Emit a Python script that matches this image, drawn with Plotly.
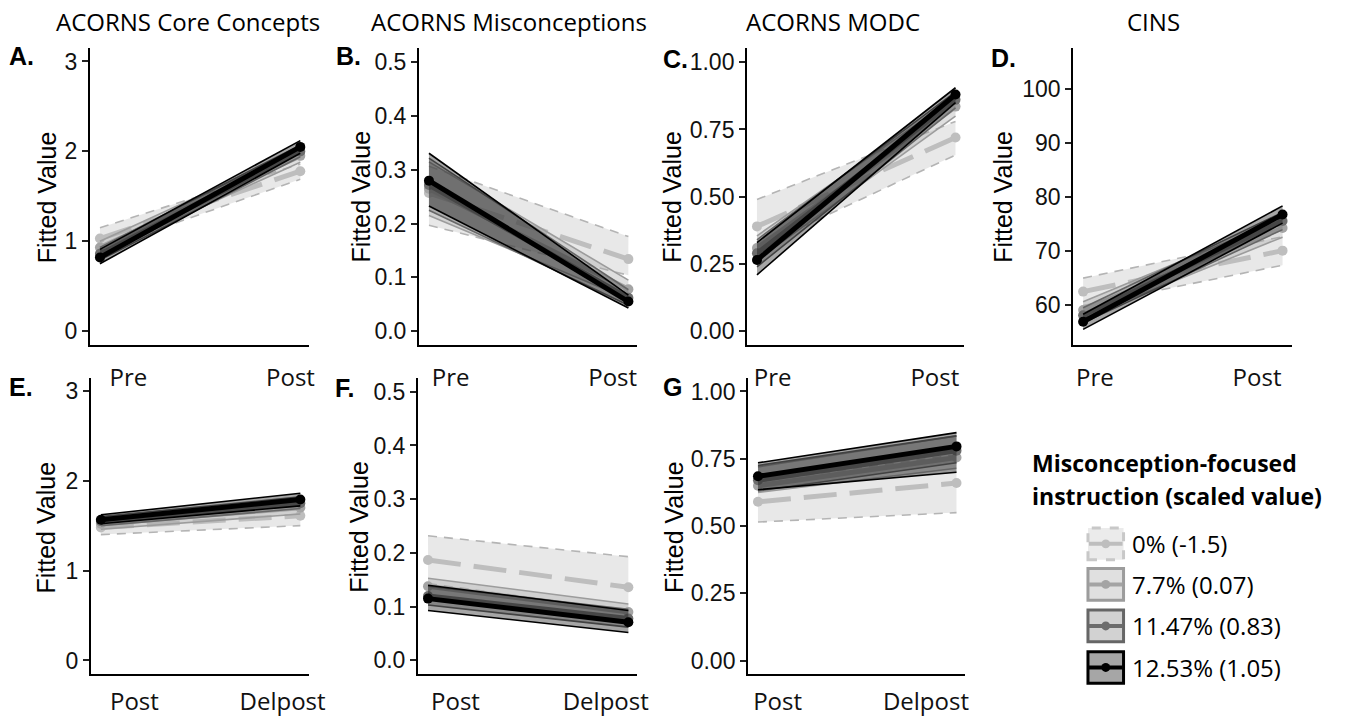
import plotly.graph_objects as go

W, H = 1352, 717

# ---------------- data ----------------
group_labels = ["0% (-1.5)", "7.7% (0.07)", "11.47% (0.83)", "12.53% (1.05)"]
panel_titles = ["ACORNS Core Concepts", "ACORNS Misconceptions", "ACORNS MODC", "CINS"]
panel_letters = ["A.", "B.", "C.", "D.", "E.", "F.", "G"]
time_row1 = ["Pre", "Post"]
time_row2 = ["Post", "Delpost"]
time_index = [1, 2]

# A: ACORNS Core Concepts, Pre -> Post
A_mean = [[1.03, 1.78], [0.93, 1.95], [0.86, 2.00], [0.82, 2.05]]
A_lo = [[0.91, 1.69], [0.86, 1.88], [0.79, 1.94], [0.75, 1.98]]
A_hi = [[1.15, 1.86], [1.00, 2.02], [0.93, 2.07], [0.91, 2.12]]

# B: ACORNS Misconceptions, Pre -> Post
B_mean = [[0.257, 0.134], [0.265, 0.078], [0.272, 0.062], [0.280, 0.055]]
B_lo = [[0.197, 0.104], [0.215, 0.060], [0.225, 0.048], [0.233, 0.043]]
B_hi = [[0.307, 0.176], [0.315, 0.095], [0.322, 0.077], [0.331, 0.067]]

# C: ACORNS MODC, Pre -> Post
C_mean = [[0.39, 0.72], [0.31, 0.835], [0.29, 0.86], [0.265, 0.88]]
C_lo = [[0.31, 0.655], [0.265, 0.80], [0.24, 0.83], [0.21, 0.85]]
C_hi = [[0.49, 0.78], [0.355, 0.87], [0.34, 0.89], [0.33, 0.905]]

# D: CINS, Pre -> Post
D_mean = [[62.4, 70.0], [59.0, 74.2], [58.0, 75.5], [56.8, 76.7]]
D_lo = [[59.8, 67.3], [57.5, 72.5], [56.6, 73.9], [55.4, 75.1]]
D_hi = [[64.9, 72.6], [60.5, 75.9], [59.4, 77.1], [58.2, 78.3]]

# E: ACORNS Core Concepts, Post -> Delpost
E_mean = [[1.48, 1.61], [1.52, 1.70], [1.55, 1.75], [1.565, 1.79]]
E_lo = [[1.40, 1.50], [1.46, 1.63], [1.50, 1.69], [1.52, 1.72]]
E_hi = [[1.57, 1.72], [1.58, 1.77], [1.60, 1.82], [1.62, 1.86]]

# F: ACORNS Misconceptions, Post -> Delpost
F_mean = [[0.187, 0.136], [0.138, 0.090], [0.120, 0.078], [0.115, 0.071]]
F_lo = [[0.143, 0.092], [0.122, 0.075], [0.103, 0.062], [0.093, 0.052]]
F_hi = [[0.232, 0.193], [0.153, 0.105], [0.138, 0.095], [0.140, 0.093]]

# G: ACORNS MODC, Post -> Delpost
G_mean = [[0.59, 0.66], [0.65, 0.755], [0.67, 0.78], [0.685, 0.796]]
G_lo = [[0.515, 0.55], [0.625, 0.715], [0.63, 0.735], [0.635, 0.70]]
G_hi = [[0.665, 0.765], [0.72, 0.835], [0.725, 0.835], [0.735, 0.847]]

# ---------------- styles ----------------
line_colors = ["#bebebe", "#a4a4a4", "#6c6c6c", "#000000"]
border_colors = ["#b4b4b4", "#9c9c9c", "#666666", "#000000"]
fill_colors = ["rgba(190,190,190,0.35)", "rgba(164,164,164,0.35)",
               "rgba(108,108,108,0.35)", "rgba(0,0,0,0.35)"]
key_fills = ["#ebebeb", "#e0e0e0", "#d2d2d2", "#a6a6a6"]
mean_dash = ["33px,13px", "solid", "solid", "solid"]
border_dash = ["9px,7px", "solid", "solid", "solid"]


def px(x):
    return x / W


def py(y):
    return 1 - y / H


panels = [
    dict(mean=A_mean, lo=A_lo, hi=A_hi, xpx=(91, 313), ypx=(49, 349), yr=(-0.155, 3.145),
         yt=[0, 1, 2, 3], fmt="", lab=time_row1, lpos=[1.142, 1.951], tl=10,
         letter=(7, 57), ytx=47, ytc=199),
    dict(mean=B_mean, lo=B_lo, hi=B_hi, xpx=(424, 645), ypx=(49, 349), yr=(-0.026, 0.526),
         yt=[0, 0.1, 0.2, 0.3, 0.4, 0.5], fmt=".1f", lab=time_row1, lpos=[1.109, 1.921], tl=10,
         letter=(338, 57), ytx=365, ytc=199),
    dict(mean=C_mean, lo=C_lo, hi=C_hi, xpx=(756, 976), ypx=(49, 349), yr=(-0.051, 1.051),
         yt=[0, 0.25, 0.5, 0.75, 1.0], fmt=".2f", lab=time_row1, lpos=[1.079, 1.896], tl=10,
         letter=(669, 60), ytx=680, ytc=199),
    dict(mean=D_mean, lo=D_lo, hi=D_hi, xpx=(1086, 1307), ypx=(49, 349), yr=(52.48, 107.5),
         yt=[60, 70, 80, 90, 100], fmt="", lab=time_row1, lpos=[1.059, 1.872], tl=10,
         letter=(1001, 59), ytx=1015, ytc=199),
    dict(mean=E_mean, lo=E_lo, hi=E_hi, xpx=(92, 313), ypx=(382, 682), yr=(-0.155, 3.145),
         yt=[0, 1, 2, 3], fmt="", lab=time_row2, lpos=[1.168, 1.911], tl=5,
         letter=(7, 391), ytx=47, ytc=533),
    dict(mean=F_mean, lo=F_lo, hi=F_hi, xpx=(423, 645), ypx=(382, 682), yr=(-0.026, 0.526),
         yt=[0, 0.1, 0.2, 0.3, 0.4, 0.5], fmt=".1f", lab=time_row2, lpos=[1.137, 1.887], tl=5,
         letter=(337, 392), ytx=363, ytc=533),
    dict(mean=G_mean, lo=G_lo, hi=G_hi, xpx=(757, 977), ypx=(382, 682), yr=(-0.051, 1.051),
         yt=[0, 0.25, 0.5, 0.75, 1.0], fmt=".2f", lab=time_row2, lpos=[1.099, 1.846], tl=5,
         letter=(669, 391), ytx=682, ytc=533),
]

fig = go.Figure()
layout = {}
annotations = []
shapes = []

for i, p in enumerate(panels):
    n = "" if i == 0 else str(i + 1)
    xa, ya = "x" + n, "y" + n
    for g in range(4):
        lo, hi, mn = p["lo"][g], p["hi"][g], p["mean"][g]
        fig.add_trace(go.Scatter(
            x=time_index + time_index[::-1], y=lo + hi[::-1], fill="toself",
            fillcolor=fill_colors[g], line=dict(width=0), mode="lines",
            xaxis=xa, yaxis=ya, showlegend=False, hoverinfo="skip"))
        for b in (lo, hi):
            fig.add_trace(go.Scatter(
                x=time_index, y=b, mode="lines",
                line=dict(color=border_colors[g], width=1.6, dash=border_dash[g]),
                xaxis=xa, yaxis=ya, showlegend=False, hoverinfo="skip"))
        fig.add_trace(go.Scatter(
            x=time_index, y=mn, mode="lines+markers",
            line=dict(color=line_colors[g], width=5, dash=mean_dash[g]),
            marker=dict(color=line_colors[g], size=10),
            xaxis=xa, yaxis=ya, showlegend=False, name=group_labels[g]))

    layout["xaxis" + n] = dict(
        domain=[px(p["xpx"][0]), px(p["xpx"][1])], anchor=ya, range=[0.95, 2.045],
        showline=True, linecolor="black", linewidth=2, showgrid=False, zeroline=False,
        tickvals=p["lpos"], ticktext=p["lab"], ticks="outside", ticklen=p["tl"],
        tickcolor="rgba(0,0,0,0)", tickfont=dict(family="Open Sans", size=24, color="#111"))
    layout["yaxis" + n] = dict(
        domain=[py(p["ypx"][1]), py(p["ypx"][0])], anchor=xa, range=list(p["yr"]),
        showline=True, linecolor="black", linewidth=2, showgrid=False, zeroline=False,
        tickvals=p["yt"], tickformat=p["fmt"], ticks="outside", ticklen=6, tickwidth=2,
        tickcolor="#222", tickfont=dict(family="Liberation Sans, Arial", size=23, color="#111"))

    annotations.append(dict(
        text="<b>" + panel_letters[i] + "</b>", x=px(p["letter"][0]), y=py(p["letter"][1]),
        xref="paper", yref="paper", xanchor="left", yanchor="middle", showarrow=False,
        font=dict(family="Liberation Sans, Arial", size=25, color="black")))
    annotations.append(dict(
        text="Fitted Value", x=px(p["ytx"]), y=py(p["ytc"]), xref="paper", yref="paper",
        xanchor="center", yanchor="middle", textangle=-90, showarrow=False,
        font=dict(family="Liberation Sans, Arial", size=25, color="black")))

title_centers = [190, 515, 843, 1167]
for t, cx in zip(panel_titles, title_centers):
    annotations.append(dict(
        text=t, x=px(cx), y=py(22), xref="paper", yref="paper", xanchor="center",
        yanchor="middle", showarrow=False, font=dict(family="Open Sans", size=24, color="black")))

# ---------------- legend (drawn manually) ----------------
legend_title = ["Misconception-focused", "instruction (scaled value)"]
for line, cy in zip(legend_title, [468, 502]):
    annotations.append(dict(
        text="<b>" + line + "</b>", x=px(1042), y=py(cy), xref="paper", yref="paper",
        xanchor="left", yanchor="middle", showarrow=False,
        font=dict(family="Open Sans", size=23, color="black")))

key_centers = [550, 591, 633, 675]
for g, cy in enumerate(key_centers):
    x0, x1 = 1101, 1137
    shapes.append(dict(type="rect", xref="paper", yref="paper",
                       x0=px(x0), x1=px(x1), y0=py(cy + 16), y1=py(cy - 16),
                       fillcolor=key_fills[g],
                       line=dict(color=border_colors[g] if g else "#c8c8c8", width=3,
                                 dash="dash" if g == 0 else "solid")))
    shapes.append(dict(type="line", xref="paper", yref="paper",
                       x0=px(x0 + 1), x1=px(x1 - 1), y0=py(cy), y1=py(cy),
                       line=dict(color=line_colors[g], width=4)))
    shapes.append(dict(type="circle", xref="paper", yref="paper",
                       x0=px((x0 + x1) / 2 - 4.5), x1=px((x0 + x1) / 2 + 4.5),
                       y0=py(cy + 4.5), y1=py(cy - 4.5),
                       fillcolor=line_colors[g], line=dict(width=0)))
    annotations.append(dict(
        text=group_labels[g], x=px(1144), y=py(cy), xref="paper", yref="paper",
        xanchor="left", yanchor="middle", showarrow=False,
        font=dict(family="Open Sans", size=24, color="black")))

fig.update_layout(
    width=W, height=H, margin=dict(l=0, r=0, t=0, b=0),
    paper_bgcolor="white", plot_bgcolor="white", showlegend=False,
    annotations=annotations, shapes=shapes, **layout)

# remove the browser's default 8px body margin so the 1352x717 figure fills the window exactly
fig.write_html("out.html", config={"displayModeBar": False},
               post_script="document.body.style.margin='0';document.body.style.overflow='hidden';")
